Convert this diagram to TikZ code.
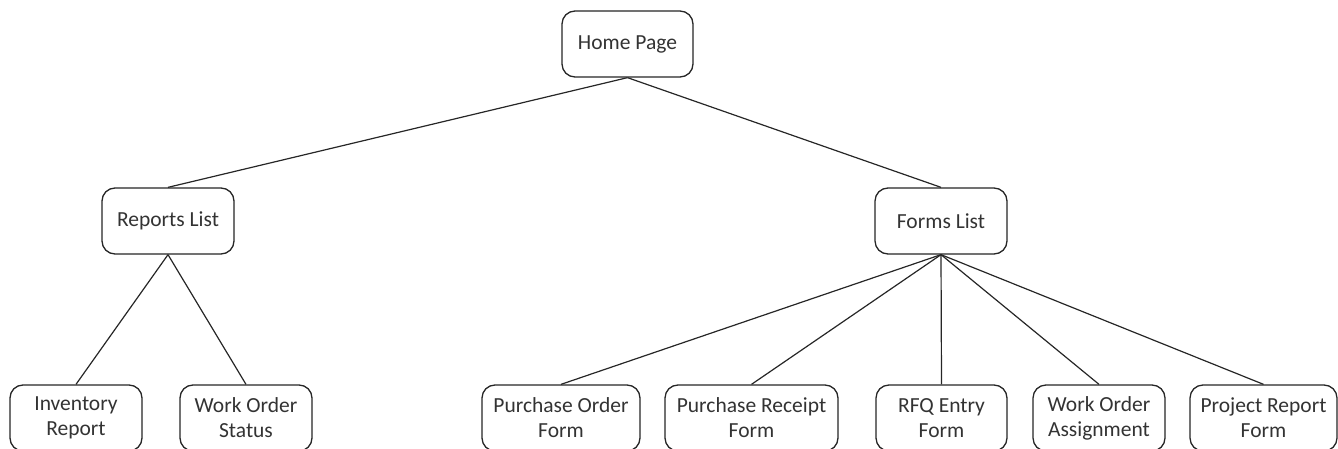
\documentclass[tikz,border=0pt]{standalone}
\usepackage{fontspec}
\setmainfont{Carlito}
\begin{document}
\begin{tikzpicture}[x=1pt,y=-1pt,
  page/.style={draw=black!85, line width=1.3pt, rounded corners=13pt, fill=white,
    minimum height=66pt, inner sep=0pt, align=center,
    font=\fontsize{21.5}{25}\selectfont, text=black!80},
  link/.style={draw=black!85, line width=1.2pt}]
\useasboundingbox (0,0) rectangle (1338,449);
\clip (0,0) rectangle (1338,449);
% top level
\node[page, minimum width=131pt] (home) at (627.5,44) {Home Page};
% second level
\node[page, minimum width=132pt] (reports) at (168,221) {Reports List};
\node[page, minimum width=132pt] (forms) at (941,221) {Forms List};
% report pages
\node[page, minimum width=132pt] (inv) at (76,418) {Inventory\\Report};
\node[page, minimum width=132pt] (wos) at (246,418) {Work Order\\Status};
% form pages
\node[page, minimum width=158pt] (po) at (561,418) {Purchase Order\\Form};
\node[page, minimum width=173pt] (pr) at (751.5,418) {Purchase Receipt\\Form};
\node[page, minimum width=131pt] (rfq) at (941.5,418) {RFQ Entry\\Form};
\node[page, minimum width=132pt] (woa) at (1099,418) {Work Order\\Assignment};
\node[page, minimum width=147pt] (prj) at (1263.5,418) {Project Report\\Form};
% connectors
\draw[link] (home.south) -- (reports.north);
\draw[link] (home.south) -- (forms.north);
\draw[link] (reports.south) -- (inv.north);
\draw[link] (reports.south) -- (wos.north);
\foreach \c in {po,pr,rfq,woa,prj}
  \draw[link] (forms.south) -- (\c.north);
\end{tikzpicture}
\end{document}
